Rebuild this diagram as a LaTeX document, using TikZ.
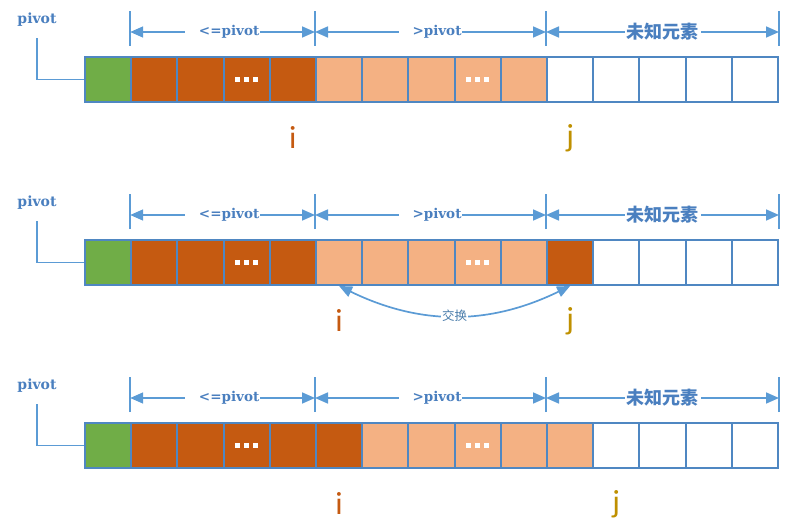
\documentclass[tikz,border=0pt]{standalone}
\usepackage{fontspec}
\setmainfont{DejaVu Serif}
\newfontfamily\cjk{Noto Sans CJK SC}
\newfontfamily\calib{Carlito}
\usetikzlibrary{arrows.meta,positioning,calc}
\definecolor{pvtgreen}{HTML}{70AD47}
\definecolor{darkorg}{HTML}{C55A11}
\definecolor{lightorg}{HTML}{F4B183}
\definecolor{edgeblue}{HTML}{4F87C2}
\definecolor{lineblue}{HTML}{5B9BD5}
\definecolor{txtblue}{HTML}{4A7FBF}
\definecolor{jgold}{HTML}{BF9000}
\tikzset{
  cell/.style={draw=edgeblue,rectangle,line width=2pt,minimum width=46.2pt,minimum height=45pt,inner sep=0pt},
  pvtcell/.style={cell,fill=pvtgreen},
  smlcell/.style={cell,fill=darkorg},
  bigcell/.style={cell,fill=lightorg},
  unkcell/.style={cell,fill=white},
  tickln/.style={lineblue,line width=1.7pt},
  tri/.tip={Triangle[length=13pt,width=11pt]},
  dimarr/.style={tri-tri,lineblue,line width=1.7pt},
  dimlbl/.style={fill=white,inner xsep=1pt,inner ysep=0pt,text=txtblue,font=\fontsize{13.5}{15}\selectfont\bfseries},
  cjklbl/.style={dimlbl,inner xsep=2pt,font=\cjk\fontsize{18}{20}\selectfont\bfseries},
  pvtlbl/.style={text=txtblue,font=\fontsize{14}{16}\selectfont\bfseries},
  lead/.style={lineblue,line width=1.7pt},
  ilbl/.style={text=darkorg,font=\calib\fontsize{32}{34}\selectfont},
  jlbl/.style={text=jgold,font=\calib\fontsize{32}{34}\selectfont},
  swaparr/.style={{Triangle[length=13pt,width=11pt]}-{Triangle[length=13pt,width=11pt]},lineblue,line width=1.7pt},
  swaplbl/.style={fill=white,inner sep=1pt,text=lineblue!80!black,font=\cjk\fontsize{12.5}{14}\selectfont}
}

\begin{document}
\begin{tikzpicture}[x=1pt,y=-1pt]
  \useasboundingbox (0,0) rectangle (800,527);

  % Cells of the three rows
  \foreach \rw/\yc/\nlo/\nhi/\nsw in {a/79.5/4/9/-1, b/262.5/4/9/10, c/445.5/5/10/-1} {
    \foreach \k in {0,...,14} {
      \ifnum\k=0 \def\sty{pvtcell}\else
        \ifnum\k>\nhi\relax \def\sty{unkcell}\else
          \ifnum\k>\nlo\relax \def\sty{bigcell}\else \def\sty{smlcell}\fi
        \fi
      \fi
      \ifnum\k=\nsw\relax \def\sty{smlcell}\fi
      \node[\sty] (\rw\k) at ({108.1+46.2*\k},\yc) {};
    }
  }

  % Ellipsis dots
  \foreach \rw in {a,b,c} \foreach \cc in {3,8} \foreach \d in {-9,0,9}
    \fill[white] ([xshift=\d pt]\rw\cc.center) ++(-2.3,-2.3) rectangle ++(4.6,4.6);

  % Ranges above each row
  \foreach \rw in {a,b,c} {
    \foreach \t/\n in {1/1,5/2,10/3}
      \coordinate (\rw t\n) at ($(\rw\t.north west)+(0,-24)$);
    \coordinate (\rw t4) at ($(\rw14.north east)+(0,-24)$);
    \foreach \n in {1,...,4}
      \draw[tickln] ($(\rw t\n)+(0,14)$) -- ($(\rw t\n)+(0,-21)$);
    \draw[dimarr] (\rw t1) -- node[dimlbl] {\hspace{13pt}<=pivot} (\rw t2);
    \draw[dimarr] (\rw t2) -- node[dimlbl] {\hspace{13pt}>pivot} (\rw t3);
    \draw[dimarr] (\rw t3) -- node[cjklbl] {未知元素} (\rw t4);

    % Pivot label
    \node[pvtlbl] (\rw p) at ($(\rw0.north west)+(-47,-36)$) {pivot};
    \draw[lead, shorten <=8pt] (\rw p.south) |- (\rw0.west);
  }

  % i and j
  \foreach \rw/\ni/\nj in {a/4/10, b/5/10, c/5/11} {
    \node[ilbl] (\rw i) at ($(\rw\ni)+(0,58)$) {i};
    \node[jlbl] (\rw j) at ($(\rw\nj)+(0,59)$) {j};
  }

  % Swap
  \draw[swaparr] (b5.south) to[bend right=26] node[swaplbl] (swp) {交换} (b10.south);

\end{tikzpicture}
\end{document}
